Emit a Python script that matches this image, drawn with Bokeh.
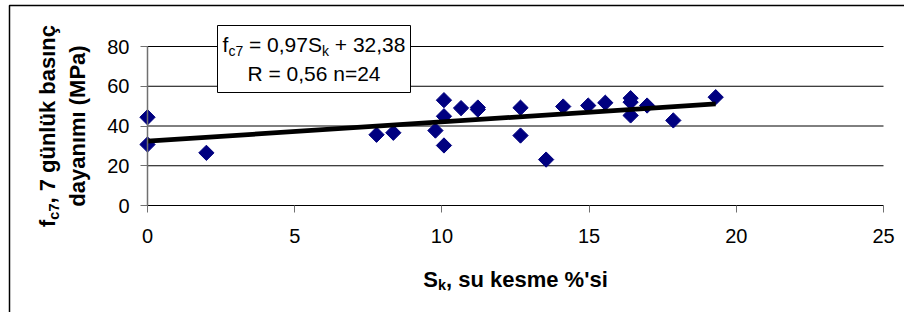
import math
from bokeh.plotting import figure
from bokeh.models import Range1d, FixedTicker, Label
from bokeh.embed import file_html
from bokeh.resources import INLINE

# ---- data ----
sk = [0.0, 0.0, 2.0, 7.78, 8.35, 9.78, 10.07, 10.07, 10.07, 10.65, 11.22, 11.22,
      12.67, 12.67, 13.54, 14.12, 14.97, 15.55, 16.41, 16.41, 16.41, 16.97, 17.86, 19.3]
fc7 = [44.4, 30.7, 26.5, 35.6, 36.6, 37.7, 53.0, 44.9, 30.2, 49.0, 48.3, 49.3,
       49.2, 35.2, 23.1, 49.8, 50.3, 51.7, 54.0, 52.0, 45.3, 50.3, 42.8, 54.5]
slope = 0.97
intercept = 32.38
x_ticks = [0, 5, 10, 15, 20, 25]
y_ticks = [0, 20, 40, 60, 80]
eq_line1 = [("f", False), ("c7", True), ("= 0,97S", False), ("k", True), ("+ 32,38", False)]
eq_line2 = "R = 0,56 n=24"
xtitle = [("S", False), ("k", True), (", su kesme %'si", False)]
ytitle1 = [("f", False), ("c7", True), (", 7 günlük basınç", False)]
ytitle2 = "dayanımı (MPa)"

# ---- layout (picture pixels) ----
OX, OY = 0, 0            # picture position of canvas origin
W, H = 904, 312
FL, FR = 147, 883        # picture x of 0 and 25
Y0, Y80 = 205, 46        # picture y of 0 and 80
XMAX, YMAX = 25.0, 80.0


def X(px):
    return (px - FL) * XMAX / (FR - FL)


def Y(py):
    return (Y0 - py) * YMAX / (Y0 - Y80)


FONT = "Liberation Sans"
REG = {'f': .278, 'c': .5, '7': .556, ' ': .278, '=': .584, '0': .556, ',': .278, '9': .556,
       'S': .667, 'k': .5, '+': .584, '3': .556, '2': .556, '8': .556}
BOLD = {'f': .333, 'c': .556, '7': .556, ',': .278, ' ': .278, 'g': .611, 'ü': .611, 'n': .611,
        'l': .278, 'k': .556, 'b': .611, 'a': .556, 's': .556, 'ı': .278, 'ç': .556, 'S': .667,
        'u': .611, 'e': .556, 'm': .889, '%': .889, "'": .238, 'i': .278}


def width(s, table, size):
    return sum(table.get(ch, .556) for ch in s) * size


p = figure(width=W, height=H,
           x_range=Range1d(X(OX), X(OX + W)), y_range=Range1d(Y(OY + H), Y(OY)),
           output_backend="svg", toolbar_location=None,
           min_border_left=0, min_border_right=0, min_border_top=0, min_border_bottom=0)
p.outline_line_color = None
p.background_fill_color = "white"
p.border_fill_color = "white"
p.xgrid.visible = False
p.ygrid.visible = False

for ax in (p.xaxis[0], p.yaxis[0]):
    ax.fixed_location = 0
    ax.major_tick_in = 0
    ax.major_tick_out = 7
    ax.minor_tick_line_color = None
    ax.major_label_text_font = FONT
    ax.major_label_text_font_size = "20px"
    ax.major_label_text_color = "black"
    ax.major_tick_line_color = "#707070"

p.xaxis.major_label_standoff = 16
p.yaxis.major_label_standoff = 11
p.xaxis.ticker = FixedTicker(ticks=x_ticks)
p.yaxis.ticker = FixedTicker(ticks=y_ticks)
p.xaxis.bounds = (0, XMAX)
p.yaxis.bounds = (0, YMAX)
p.xaxis.axis_line_color = "black"
p.yaxis.axis_line_color = "#707070"
p.yaxis.axis_line_width = 1.5

# horizontal gridlines at the y ticks, spanning the x-axis extent
gy = [t for t in y_ticks if t > 0]
p.segment(x0=[x_ticks[0]] * len(gy), x1=[x_ticks[-1]] * len(gy), y0=gy, y1=gy,
          line_color="black", line_width=1)

# outer chart border (left and top edges visible)
p.line([X(9), X(9), X(912)], [Y(320), Y(5), Y(5)], line_color="black", line_width=1.5)

# equation box
p.quad(left=X(217), right=X(410), top=Y(25), bottom=Y(92),
       fill_color="white", line_color="black", line_width=1)

# points
p.scatter(sk, fc7, marker="square", angle=math.pi / 4, size=10.8,
          fill_color="#000080", line_color="#000080")

# trend line
tx = [min(sk), max(sk)]
ty = [intercept + slope * v for v in tx]
p.line(tx, ty, line_color="black", line_width=4.8)

SUBSHIFT = 6

# equation line 1 (regular 21px)
ES, ESS = 21, 14
gap = REG[' '] * ES
tw = (width("f", REG, ES) + width("c7", REG, ESS) + gap + width("= 0,97S", REG, ES)
      + width("k", REG, ESS) + gap + width("+ 32,38", REG, ES))
cx = 313.5
x = cx - tw / 2
for i, (txt, sub) in enumerate(eq_line1):
    s = ESS if sub else ES
    if i in (2, 4):
        x += gap
    p.add_layout(Label(x=X(x), y=Y(44 + (SUBSHIFT if sub else 0)), text=txt,
                       text_font=FONT, text_font_size=f"{s}px",
                       text_color="black", text_align="left", text_baseline="middle"))
    x += width(txt, REG, s)

p.add_layout(Label(x=X(cx), y=Y(73), text=eq_line2, text_font=FONT, text_font_size=f"{ES}px",
                   text_color="black", text_align="center", text_baseline="middle"))

# x title (bold 22px)
TS, TSS = 22, 14.5
tw = sum(width(t, BOLD, TSS if s else TS) for t, s in xtitle)
x = (FL + FR) / 2 - tw / 2
for txt, sub in xtitle:
    s = TSS if sub else TS
    p.add_layout(Label(x=X(x), y=Y(278.5 + (SUBSHIFT if sub else 0)), text=txt,
                       text_font=FONT, text_font_size=f"{s}px", text_font_style="bold",
                       text_color="black", text_align="left", text_baseline="middle"))
    x += width(txt, BOLD, s)

# y title (bold 22px, rotated)
ycen = (Y80 + Y0) / 2
tw = sum(width(t, BOLD, TSS if s else TS) for t, s in ytitle1)
y = ycen + tw / 2
for txt, sub in ytitle1:
    s = TSS if sub else TS
    p.add_layout(Label(x=X(47 + (SUBSHIFT if sub else 0)), y=Y(y), text=txt, angle=math.pi / 2,
                       text_font=FONT, text_font_size=f"{s}px", text_font_style="bold",
                       text_color="black", text_align="left", text_baseline="middle"))
    y -= width(txt, BOLD, s)

p.add_layout(Label(x=X(77), y=Y(ycen), text=ytitle2, angle=math.pi / 2,
                   text_font=FONT, text_font_size=f"{TS}px", text_font_style="bold",
                   text_color="black", text_align="center", text_baseline="middle"))

open("out.html", "w").write(file_html(p, INLINE))
